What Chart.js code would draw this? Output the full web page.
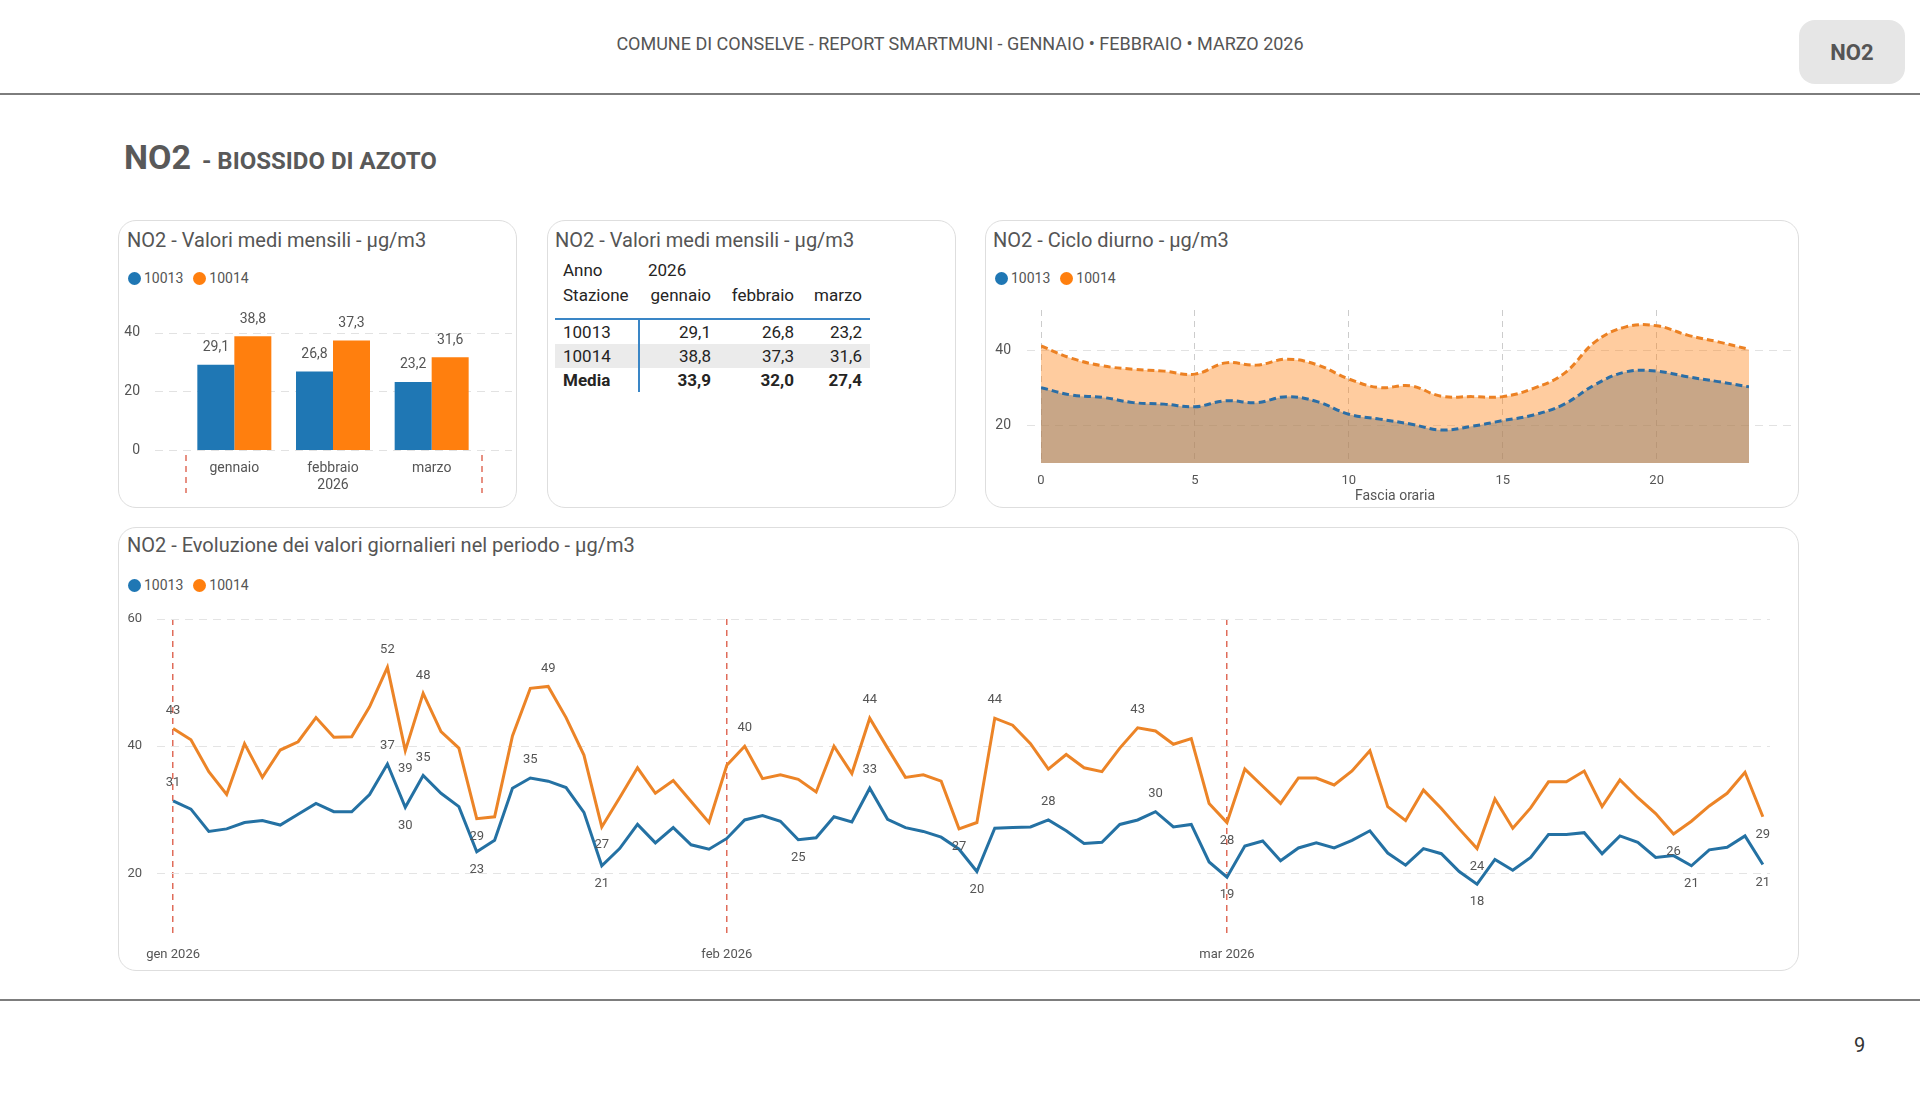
<!DOCTYPE html>
<html lang="it">
<head>
<meta charset="utf-8">
<title>NO2 - Biossido di azoto</title>
<script src="https://cdn.jsdelivr.net/npm/chart.js@4.4.1/dist/chart.umd.min.js"></script>
<style>
  html, body { margin: 0; padding: 0; background: #fff; }
  body { width: 1920px; height: 1095px; position: relative; overflow: hidden; font-family: Roboto, 'Noto Sans', sans-serif; color: #555; }
  .abs { position: absolute; }
  .riga-sep { position: absolute; left: 0; width: 1920px; height: 2px; background: #7d7d7d; }
  .panel { position: absolute; box-sizing: border-box; border: 1.5px solid #dedede; border-radius: 18px; background: #fff; }
  .titolo { position: absolute; font-size: 20px; line-height: 24px; color: #555; white-space: nowrap; }
  .legenda { position: absolute; display: flex; align-items: center; height: 16px; font-size: 14px; color: #555; }
  .legenda .dot { width: 13px; height: 13px; border-radius: 50%; margin-right: 3px; }
  .legenda .lab { margin-right: 10px; }
  .wrap { position: absolute; }
  #tabella { font-size: 17px; color: #252423; }
  #tabella .row { display: flex; height: 25px; line-height: 25px; }
  #tabella .dati .row { height: 24px; line-height: 24px; }
  #tabella .cell { box-sizing: border-box; white-space: nowrap; }
</style>
</head>
<body>

<div class="abs" style="left:0;top:34px;width:1920px;text-align:center;font-size:18px;line-height:20px;color:#555">COMUNE DI CONSELVE - REPORT SMARTMUNI - GENNAIO • FEBBRAIO • MARZO 2026</div>
<div class="abs" style="left:1799px;top:20px;width:106px;height:64px;line-height:66px;border-radius:16px;background:#e6e6e6;text-align:center;font-size:22px;font-weight:bold;color:#555">NO2</div>
<div class="riga-sep" style="top:93px"></div>

<div class="abs" style="left:124px;top:137px;font-size:34px;line-height:40px;font-weight:bold;color:#595959;white-space:nowrap">NO2<span style="font-size:24px;margin-left:11px">- BIOSSIDO DI AZOTO</span></div>

<div class="panel" style="left:118px;top:220px;width:399px;height:288px"></div>
<div class="panel" style="left:547px;top:220px;width:409px;height:288px"></div>
<div class="panel" style="left:985px;top:220px;width:814px;height:288px"></div>
<div class="panel" style="left:118px;top:527px;width:1681px;height:444px"></div>

<div class="titolo" style="left:127px;top:228px">NO2 - Valori medi mensili - µg/m3</div>
<div class="titolo" style="left:555px;top:228px">NO2 - Valori medi mensili - µg/m3</div>
<div class="titolo" style="left:993px;top:228px">NO2 - Ciclo diurno - µg/m3</div>
<div class="titolo" style="left:127px;top:533px">NO2 - Evoluzione dei valori giornalieri nel periodo - µg/m3</div>

<div class="legenda" id="leg1" style="left:128px;top:270px"></div>
<div class="legenda" id="leg3" style="left:995px;top:270px"></div>
<div class="legenda" id="leg4" style="left:128px;top:577px"></div>

<div id="tabella" class="abs" style="left:555px;top:258px"></div>

<div class="wrap" style="left:118px;top:300px;width:399px;height:208px"><canvas id="cMensile"></canvas></div>
<div class="wrap" style="left:985px;top:300px;width:814px;height:208px"><canvas id="cDiurno"></canvas></div>
<div class="wrap" style="left:118px;top:600px;width:1681px;height:371px"><canvas id="cGiornaliero"></canvas></div>

<div class="riga-sep" style="top:999px"></div>
<div class="abs" style="left:1854px;top:1033px;font-size:20px;line-height:24px;color:#333">9</div>

<script>
const stazioni = ['10013', '10014']
const colori = ['#1f77b4', '#ff7f0e']
const anno = '2026'
const mesi = ['gennaio', 'febbraio', 'marzo']
const mensile10013 = [29.1, 26.8, 23.2]
const mensile10014 = [38.8, 37.3, 31.6]
const mediaMensile = [33.9, 32.0, 27.4]

const ore = [0, 1, 2, 3, 4, 5, 6, 7, 8, 9, 10, 11, 12, 13, 14, 15, 16, 17, 18, 19, 20, 21, 22, 23]
const diurno10013 = [30.0, 28.0, 27.4, 26.0, 25.6, 24.9, 26.5, 26.0, 27.6, 26.2, 22.9, 21.6, 20.3, 18.7, 19.7, 21.2, 22.7, 25.6, 30.8, 34.2, 34.4, 32.9, 31.6, 30.2]
const diurno10014 = [41.1, 37.8, 35.8, 34.9, 34.4, 33.6, 36.6, 36.0, 37.6, 36.0, 32.3, 30.0, 30.5, 27.7, 27.6, 27.6, 29.8, 33.8, 42.2, 46.2, 46.5, 44.0, 42.2, 40.2]

const etichetteMesi = ['gen 2026', 'feb 2026', 'mar 2026']
const giornaliero10013 = [
  31.4, 30.1, 26.6, 27.0, 28.0, 28.3, 27.6, 29.3, 31.0, 29.7, 29.7, 32.4, 37.2, 30.4, 35.4, 32.6, 30.5, 23.4, 25.2, 33.4, 35.0, 34.5, 33.5, 29.6, 21.2, 23.9, 27.7, 24.8, 27.2, 24.5, 23.8,
  25.5, 28.4, 29.1, 28.2, 25.3, 25.6, 28.9, 28.1, 33.4, 28.5, 27.2, 26.6, 25.7, 23.8, 20.3, 27.1, 27.2, 27.3, 28.4, 26.7, 24.7, 24.9, 27.7, 28.4, 29.7, 27.3, 27.7, 21.8,
  19.4, 24.3, 25.1, 22.0, 24.0, 24.8, 24.0, 25.2, 26.7, 23.2, 21.3, 23.9, 23.1, 20.3, 18.3, 22.2, 20.5, 22.5, 26.1, 26.1, 26.4, 23.1, 25.9, 24.9, 22.5, 22.8, 21.2, 23.7, 24.1, 25.9, 21.4
]
const giornaliero10014 = [
  42.8, 41.0, 36.0, 32.4, 40.4, 35.1, 39.4, 40.7, 44.5, 41.4, 41.5, 46.2, 52.4, 39.3, 48.3, 42.3, 39.7, 28.6, 28.9, 41.6, 49.1, 49.4, 44.5, 38.6, 27.3, 31.9, 36.6, 32.6, 34.6, 31.3, 28.0,
  37.0, 40.0, 34.9, 35.5, 34.8, 32.8, 40.0, 35.7, 44.4, 39.7, 35.1, 35.5, 34.5, 27.0, 28.0, 44.4, 43.3, 40.4, 36.4, 38.7, 36.6, 36.0, 39.7, 42.9, 42.4, 40.3, 41.2, 31.0,
  28.0, 36.4, 33.7, 31.0, 35.0, 35.0, 33.9, 36.1, 39.3, 30.5, 28.3, 33.1, 30.2, 27.0, 23.9, 31.7, 27.1, 30.3, 34.4, 34.4, 36.1, 30.5, 34.7, 31.9, 29.4, 26.2, 28.2, 30.6, 32.6, 35.9, 28.9
]
// giorni con etichetta (indice del giorno nel periodo)
const etichette10013 = [0, 12, 13, 14, 17, 20, 24, 35, 39, 45, 49, 55, 59, 73, 85, 89]
const etichette10014 = [0, 12, 13, 14, 17, 21, 24, 32, 39, 44, 46, 54, 59, 73, 84, 89]

const fmt = v => v.toFixed(1).replace('.', ',')

// legende
;['leg1', 'leg3', 'leg4'].forEach(id => {
  document.getElementById(id).innerHTML = stazioni.map((s, i) =>
    '<span class="dot" style="background:' + colori[i] + '"></span><span class="lab">' + s + '</span>').join('')
})

// tabella valori medi
let cols = [85, 76, 83, 71]
let padR = [0, 5, 5, 8]
function cella(testo, i, extra) {
  let st = 'width:' + cols[i] + 'px;' + (i ? 'text-align:right;padding-right:' + padR[i] + 'px;' : 'padding-left:8px;')
  return '<div class="cell" style="' + st + (extra || '') + '">' + testo + '</div>'
}
let html = '<div class="row">' + cella('Anno', 0) + '<div class="cell" style="padding-left:8px">' + anno + '</div></div>'
html += '<div class="row">' + cella('Stazione', 0) + mesi.map((m, i) => cella(m, i + 1)).join('') + '</div>'
html += '<div class="dati" style="margin-top:10px;border-top:2px solid #3a86c6">'
let righe = [[stazioni[0], mensile10013, ''], [stazioni[1], mensile10014, 'background:#ebebeb;'], ['Media', mediaMensile, 'font-weight:bold;']]
righe.forEach(r => {
  html += '<div class="row" style="' + r[2] + '">' + cella(r[0], 0, 'border-right:2px solid #3a86c6;') + r[1].map((v, i) => cella(fmt(v), i + 1)).join('') + '</div>'
})
html += '</div>'
document.getElementById('tabella').innerHTML = html

Chart.defaults.font.family = "Roboto, 'Noto Sans', sans-serif"
Chart.defaults.color = '#555'
Chart.defaults.animation = false
Chart.defaults.events = []
Chart.defaults.plugins.legend.display = false
Chart.defaults.plugins.tooltip.enabled = false

// griglia orizzontale tratteggiata piu larga dell'area del grafico
const griglia = {
  id: 'griglia',
  beforeDatasetsDraw(chart, args, opts) {
    let ctx = chart.ctx, a = chart.chartArea, y = chart.scales.y
    ctx.save()
    ctx.strokeStyle = '#e2e2e2'
    ctx.lineWidth = 1
    ctx.setLineDash([8, 6])
    y.ticks.forEach(t => {
      let py = Math.round(y.getPixelForValue(t.value)) + 0.5
      ctx.beginPath()
      ctx.moveTo(a.left - opts.sx, py)
      ctx.lineTo(a.right + opts.dx, py)
      ctx.stroke()
    })
    ctx.restore()
  }
}

const etichetteBarre = {
  id: 'etichetteBarre',
  afterDatasetsDraw(chart) {
    let ctx = chart.ctx
    ctx.save()
    ctx.font = "14px Roboto, 'Noto Sans', sans-serif"
    ctx.fillStyle = '#555'
    ctx.textAlign = 'center'
    ctx.textBaseline = 'middle'
    chart.data.datasets.forEach((ds, i) => {
      chart.getDatasetMeta(i).data.forEach((bar, k) => {
        ctx.fillText(fmt(ds.data[k]), bar.x, bar.y - 17)
      })
    })
    ctx.restore()
  }
}

// separatori dell'anno e etichetta 2026 sotto i mesi
const separatoreAnno = {
  id: 'separatoreAnno',
  afterDraw(chart) {
    let ctx = chart.ctx, a = chart.chartArea
    ctx.save()
    ctx.strokeStyle = '#e06c5a'
    ctx.lineWidth = 1.5
    ctx.setLineDash([6, 5])
    ;[a.left + 1, a.right + 1].forEach(x => {
      ctx.beginPath()
      ctx.moveTo(x, a.bottom + 5)
      ctx.lineTo(x, a.bottom + 43)
      ctx.stroke()
    })
    ctx.font = "14px Roboto, 'Noto Sans', sans-serif"
    ctx.fillStyle = '#555'
    ctx.textAlign = 'center'
    ctx.textBaseline = 'middle'
    ctx.fillText(anno, (a.left + a.right) / 2, a.bottom + 35)
    ctx.restore()
  }
}

const etichettePunti = {
  id: 'etichettePunti',
  afterDatasetsDraw(chart) {
    let ctx = chart.ctx
    ctx.save()
    ctx.font = "13px Roboto, 'Noto Sans', sans-serif"
    ctx.fillStyle = '#555'
    ctx.textAlign = 'center'
    ctx.textBaseline = 'middle'
    chart.data.datasets.forEach((ds, i) => {
      let pts = chart.getDatasetMeta(i).data
      ds.etichette.forEach(k => {
        let v = ds.valori[k]
        let vicini = [ds.valori[k - 1], ds.valori[k + 1]].filter(n => n !== undefined)
        let media = vicini.reduce((s, n) => s + n, 0) / vicini.length
        let dy = v >= media ? -18 : 18 // sopra i picchi, sotto i minimi
        ctx.fillText(Math.round(v), pts[k].x, pts[k].y + dy)
      })
    })
    ctx.restore()
  }
}

// tacche solo sui multipli del passo, tra min e max
const multipli = passo => s => {
  let t = []
  for (let v = Math.ceil(s.min / passo) * passo; v <= s.max; v += passo) t.push({ value: v })
  s.ticks = t
}
// larghezza fissa dell'asse y, senza il padding extra delle etichette
const asseY = w => s => { s.width = w; s.paddingTop = 0; s.paddingBottom = 0 }

new Chart(document.getElementById('cMensile'), {
  type: 'bar',
  data: {
    labels: mesi,
    datasets: [
      { label: stazioni[0], data: mensile10013, backgroundColor: colori[0] },
      { label: stazioni[1], data: mensile10014, backgroundColor: colori[1] }
    ]
  },
  options: {
    maintainAspectRatio: false,
    layout: { padding: { top: 18, right: 36, left: 0, bottom: 0 } },
    datasets: { bar: { categoryPercentage: 0.75, barPercentage: 1 } },
    scales: {
      x: {
        grid: { display: false, drawTicks: false },
        border: { display: false },
        afterFit: s => { s.height = 58 },
        ticks: { padding: 10, font: { size: 14 } }
      },
      y: {
        min: 0, max: 45,
        afterBuildTicks: multipli(20),
        afterFit: asseY(67),
        grid: { display: false, drawTicks: false },
        border: { display: false },
        ticks: { padding: 45, font: { size: 14 } }
      }
    },
    plugins: { griglia: { sx: 30, dx: 31 } }
  },
  plugins: [griglia, etichetteBarre, separatoreAnno]
})

new Chart(document.getElementById('cDiurno'), {
  type: 'line',
  data: {
    labels: ore,
    datasets: [
      { label: stazioni[0], data: diurno10013, borderColor: '#2b6ea6', borderDash: [7, 4], borderWidth: 3,
        backgroundColor: 'rgba(145,130,112,0.5)', fill: 'origin', pointRadius: 0, tension: 0.4 },
      { label: stazioni[1], data: diurno10014, borderColor: '#ec8123', borderDash: [7, 4], borderWidth: 3,
        backgroundColor: 'rgba(255,127,14,0.4)', fill: 'origin', pointRadius: 0, tension: 0.4 }
    ]
  },
  options: {
    maintainAspectRatio: false,
    layout: { padding: { top: 10, right: 50, left: 0, bottom: 0 } },
    scales: {
      x: {
        type: 'linear', min: 0, max: 23,
        afterBuildTicks: multipli(5),
        afterFit: s => { s.height = 45 },
        grid: { color: '#cccccc', drawTicks: false },
        border: { display: false, dash: [6, 5] },
        ticks: { padding: 10, font: { size: 13 } },
        title: { display: true, text: 'Fascia oraria', font: { size: 14 }, padding: { top: 0, bottom: 3 } }
      },
      y: {
        min: 9.9, max: 50.7,
        afterBuildTicks: multipli(20),
        afterFit: asseY(56),
        grid: { display: false, drawTicks: false },
        border: { display: false },
        ticks: { padding: 30, font: { size: 14 } }
      }
    },
    plugins: { griglia: { sx: 14, dx: 47 } }
  },
  plugins: [griglia]
})

// giorni del periodo 1 gen - 31 mar 2026
let giorni = []
for (let d = new Date(2026, 0, 1); d <= new Date(2026, 2, 31); d.setDate(d.getDate() + 1)) giorni.push(new Date(d))
let inizioMese = giorni.map((d, i) => d.getDate() === 1 ? i : -1).filter(i => i >= 0)

new Chart(document.getElementById('cGiornaliero'), {
  type: 'line',
  data: {
    datasets: [
      { label: stazioni[0], data: giornaliero10013.map((v, i) => ({ x: i, y: v })), valori: giornaliero10013, etichette: etichette10013,
        borderColor: '#2471a3', borderWidth: 3, pointRadius: 0, tension: 0, fill: false },
      { label: stazioni[1], data: giornaliero10014.map((v, i) => ({ x: i, y: v })), valori: giornaliero10014, etichette: etichette10014,
        borderColor: '#ec8427', borderWidth: 3, pointRadius: 0, tension: 0, fill: false }
    ]
  },
  options: {
    maintainAspectRatio: false,
    layout: { padding: { top: 19, right: 29, left: 0, bottom: 0 } },
    scales: {
      x: {
        type: 'linear', min: -0.9, max: giorni.length - 0.6,
        afterBuildTicks: s => { s.ticks = inizioMese.map(v => ({ value: v })) },
        afterFit: s => { s.height = 34 },
        grid: { color: '#e06c5a', lineWidth: 1.5, drawTicks: false },
        border: { display: false, dash: [6, 5] },
        ticks: { padding: 10, maxRotation: 0, font: { size: 13 }, callback: v => etichetteMesi[inizioMese.indexOf(v)] }
      },
      y: {
        min: 10, max: 60,
        afterBuildTicks: multipli(20),
        afterFit: asseY(39),
        grid: { color: '#e4e4e4', drawTicks: false },
        border: { display: false, dash: [8, 6] },
        ticks: { padding: 15, font: { size: 13 } }
      }
    }
  },
  plugins: [etichettePunti]
})
</script>
</body>
</html>
